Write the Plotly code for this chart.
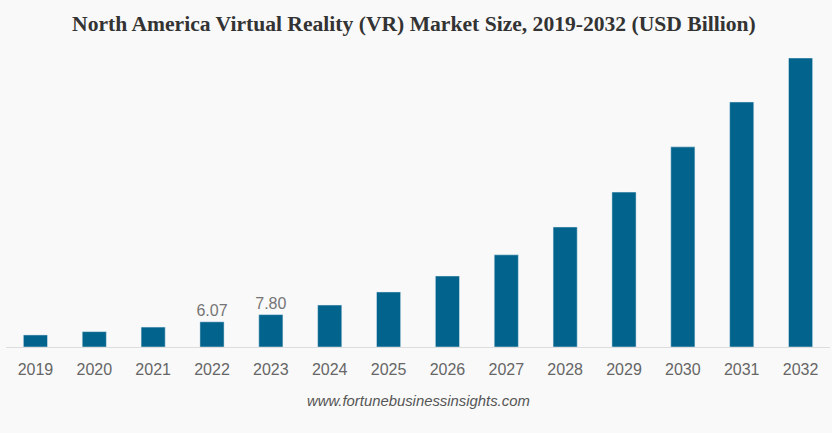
import plotly.graph_objects as go

years = ["2019","2020","2021","2022","2023","2024","2025","2026","2027","2028","2029","2030","2031","2032"]
values = [2.9,3.7,4.8,6.07,7.80,10.1,13.25,17.1,22.2,28.9,37.3,48.2,59.0,69.6]
labels = ["","","","6.07","7.80","","","","","","","","",""]

fig = go.Figure(go.Bar(x=years, y=values, width=0.41, marker_color="#02638c",
    text=labels, textposition="outside", cliponaxis=False, constraintext="none",
    textfont=dict(family="Arial, Liberation Sans", size=16, color="#757575")))
fig.update_layout(
    width=832, height=433, autosize=False, paper_bgcolor="#f9f9f9", plot_bgcolor="#f9f9f9",
    margin=dict(l=6, r=2, t=58, b=86), showlegend=False,
    title=dict(text="<b>North America Virtual Reality (VR) Market Size, 2019-2032 (USD Billion)</b>",
        x=0.4975, xanchor="center", y=0.945, yanchor="middle",
        font=dict(family="Times New Roman, Liberation Serif", size=21.6, color="#333333")),
    xaxis=dict(showgrid=False, showline=True, linecolor="#dddddd", linewidth=1, ticks="",
        ticklabelstandoff=8,
        tickfont=dict(family="Arial, Liberation Sans", size=16, color="#666666")),
    yaxis=dict(visible=False, range=[0,69.6]),
    annotations=[dict(text="<i>www.fortunebusinessinsights.com</i>", xref="paper", yref="paper",
        x=0.5, y=-0.188, yanchor="middle", showarrow=False,
        font=dict(family="Arial, Liberation Sans", size=14.85, color="#555555"))],
)
fig.write_html("out.html", config={"displayModeBar": False},
    post_script="document.body.style.margin='0';document.documentElement.style.background='#f9f9f9';document.body.style.overflow='hidden';")
